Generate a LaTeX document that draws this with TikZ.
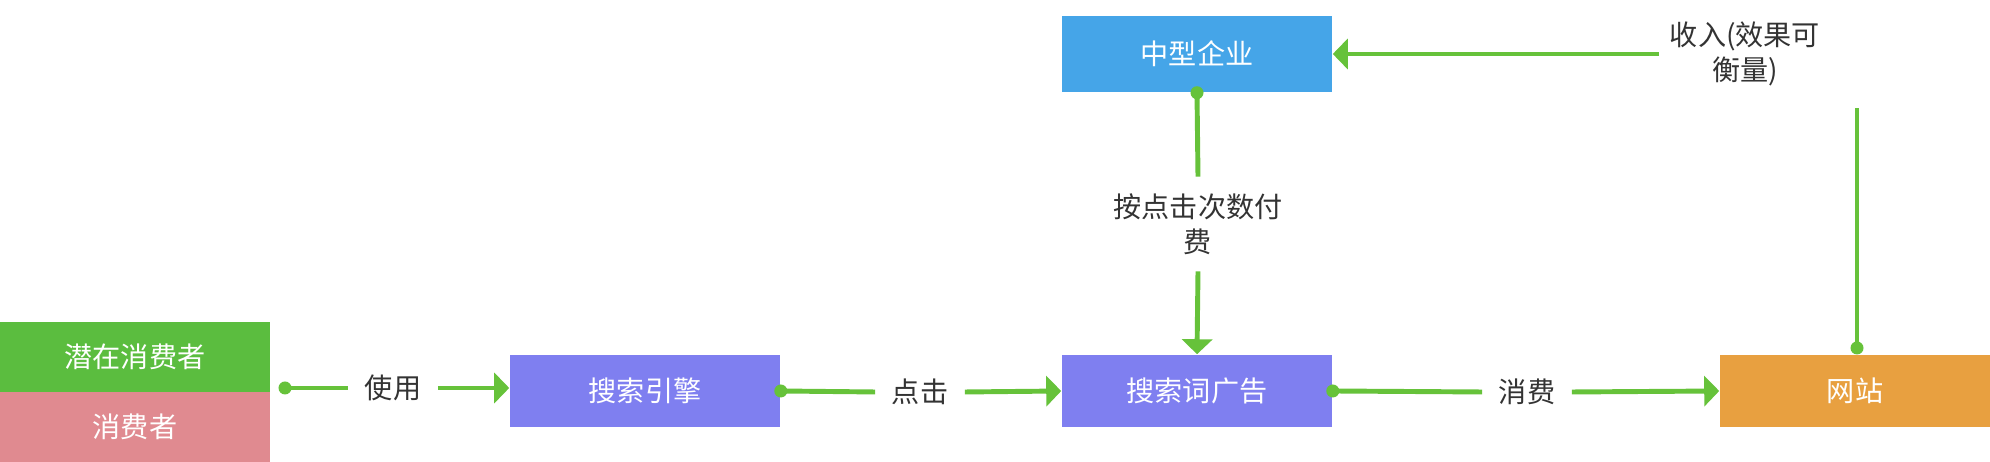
\documentclass[tikz,border=0pt]{standalone}
\usepackage{fontspec}
\setmainfont{Noto Sans CJK SC}
\usetikzlibrary{positioning,arrows.meta}
\definecolor{lnk}{HTML}{66C23A}
\definecolor{txt}{HTML}{333333}
\begin{document}
\begin{tikzpicture}[x=0.01cm,y=-0.01cm,
  box/.style={minimum width=2.7cm, minimum height=0.72cm, inner sep=0pt,
    text=white, font=\fontsize{8}{10}\selectfont},
  lbl/.style={text=txt, font=\fontsize{8}{10}\selectfont, inner sep=0.16cm, align=center},
  flow/.style={draw=lnk, line width=1.4pt},
  tip/.style={flow, -{Triangle[length=0.15cm,width=0.3cm]}},
  dot/.style={fill=lnk, circle, inner sep=0pt, minimum size=0.13cm}]
\useasboundingbox (0,0) rectangle (1990,462);

% boxes
\node[box, fill={rgb,255:red,91;green,189;blue,63}, minimum height=0.7cm] (potential) at (135,357) {潜在消费者};
\node[box, fill={rgb,255:red,224;green,138;blue,144}, minimum height=0.7cm] (consumer) at (135,427) {消费者};
\node[box, fill={rgb,255:red,127;green,127;blue,240}] (engine) at (645,391) {搜索引擎};
\node[box, fill={rgb,255:red,127;green,127;blue,240}] (ad) at (1197,391) {搜索词广告};
\node[box, fill={rgb,255:red,232;green,160;blue,64}] (site) at (1855,391) {网站};
\node[box, fill={rgb,255:red,69;green,165;blue,232}, minimum height=0.76cm] (firm) at (1197,54) {中型企业};

% labels
\node[lbl] (use) at (393,388) {使用};
\node[lbl] (click) at (920,392) {点击};
\node[lbl] (spend) at (1527,392) {消费};
\node[lbl] (pay) at (1198,224) {按点击次数付\\费};
\node[lbl, inner sep=0.1cm] (income) at (1745,54) {收入(效果可\\衡量)};

% connectors
\coordinate (s1) at (285,388);
\node[dot] at (s1) {};
\draw[flow] (s1) -- (use.west);
\draw[tip] (use.east) -- (engine.west |- use.east);
\node[dot] (s2) at (engine.east) {};
\draw[flow] (s2.center) -- (click.west);
\draw[tip] (click.east) -- (ad.west);
\node[dot] (s3) at (ad.east) {};
\draw[flow] (s3.center) -- (spend.west);
\draw[tip] (spend.east) -- (site.west);
\node[dot] (s4) at (firm.south) {};
\draw[flow] (s4.center) -- (pay.north);
\draw[tip] (pay.south) -- (ad.north);
\coordinate (s5) at (1857,348);
\coordinate (up) at (1857,108);
\node[dot] at (s5) {};
\draw[flow] (s5) -- (up);
\draw[tip] (income.west) -- (firm.east);
\end{tikzpicture}
\end{document}
